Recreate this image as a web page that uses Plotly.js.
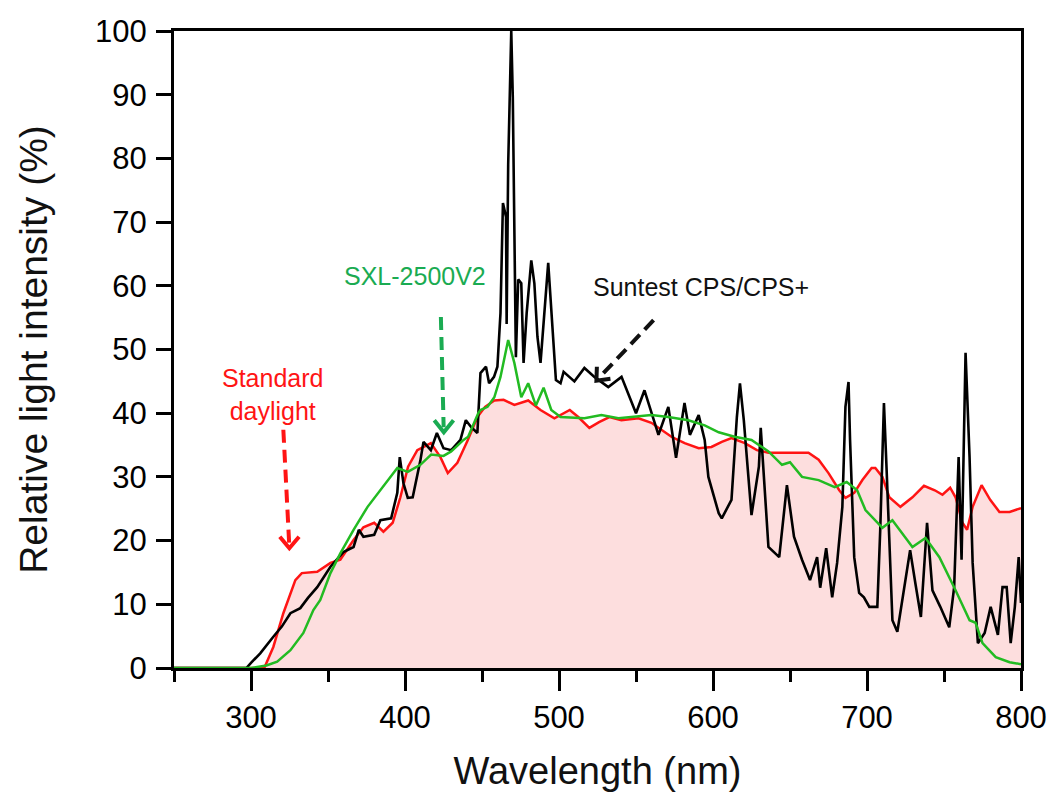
<!DOCTYPE html>
<html>
<head>
<meta charset="utf-8">
<script src="https://cdn.plot.ly/plotly-3.0.1.min.js"></script>
<style>html,body{margin:0;padding:0;background:#fff;}#chart{width:1049px;height:798px;}</style>
</head>
<body>
<div id="chart"></div>
<script>
// Suntest CPS/CPS+ (black)
const suntestX = [250,297,300,306,314.5,320,325.6,332,337,343,351.6,360,366.6,370,373,380,384,391,395,396.6,399,401.8,405,410,412,416.8,420.7,425,430,436,439.5,443,447,449,452.6,454.6,457.8,460,462,463.6,465.6,466,467,469,470,471,472,473.5,475.5,477,479,482,484,486,488,493,496,498,501,503,510,516.5,523,532,540.6,550,555.5,564.6,571,576,581.5,585,590.7,594.6,597,603.7,605.7,612,615.5,617.5,620,625,629.8,631,636,643,648,652.6,657.8,663,667.6,669.6,673.5,677.4,680.6,684,686,688,689,691.7,694.9,698,701.5,706.7,708.6,711,713,716.5,719.7,724,728,731.4,735,739,742.5,747.6,753.4,756.6,759.5,761.4,764,766.6,768.6,772,776.4,780.3,785,788,790.7,793.3,796,798.5,800];
const suntestY = [0,0,0.8,2.3,4.9,6.5,8.6,9.4,11,12.7,15.9,18.2,19.0,21.7,20.6,20.9,23.2,23.5,27.5,33.1,29,26.7,26.8,32.6,35.5,34.2,36.9,34.5,34.2,35.8,38.9,37.8,36.9,46.3,47.3,44.7,45.7,47.3,55.7,73,70.8,54,79,100,89.6,63.6,48.8,61,60.4,47.9,55.7,64,60.4,52,47.9,63.6,53,45.2,44.7,46.5,45,47.1,45.7,44.1,45.7,40,43.6,36.6,41,33,41.6,36.6,39.7,35.8,30,24.3,23.5,26.4,39.4,44.7,38.9,24,31.6,37.7,19,17.4,28.7,20.6,17,13.8,17.4,12.6,18.8,11.1,16.5,25.3,41,44.9,35.8,17.4,11.8,11.1,9.6,9.6,21.7,41.6,29.5,7.5,5.7,12.2,18.5,13.3,8,22.8,12.2,9.6,6.4,12.7,33.1,17,49.5,33.1,16.5,3.9,5.5,9.6,5.2,12.7,12.7,3.9,9.6,17.4,10.2];

// Standard daylight (red, filled)
const daylightX = [250,308.6,314.5,321,328.8,333,343,351.6,358,366.6,373,380,386,392,397,402,408,416.8,423,427.8,434,440.8,447,452,458,464,471,480,488,497,507,512.5,519.7,526,532.7,540.5,551.6,560,573,581.6,590.7,599,605.7,612,620.7,628.5,636,662,668.6,675,682,686,691.7,697,703,705.4,710,714.5,721.7,729.5,737,744,749,754,757.5,762,765,768.6,774.4,780,786,792.6,800];
const daylightY = [0,0,3.3,8.6,13.8,14.9,15.1,16.5,17,20.1,22.1,22.8,21.4,22.8,26.8,31.6,34.2,35.3,33.1,30.6,32.2,35.8,39.4,41,42,42.1,41.3,42,40.5,39.2,40.5,39.4,37.7,38.6,39.4,38.9,39.2,38.5,36.3,35.3,34.5,34.7,35.5,36.1,35.3,34.2,33.8,33.8,32.7,30.6,27.9,26.7,27.5,29.5,31.4,31.4,30,26.8,25.3,26.8,28.6,27.9,27.2,28.3,26.8,22.8,21.7,25.3,28.7,26.4,24.5,24.5,25.1];

// SXL-2500V2 (green)
const sxlX = [250,300,305,310,317,325.6,334,340.5,345,351.6,358,366.6,375.7,384,392.7,395,401.8,410,417,425,430,438,441,444,447.6,449,453.6,458,462,467,471,475.5,480,485,490,495,501,516.5,527.5,538.6,560,571,584,594.6,603.7,614,625,636,644.8,650,657.8,668.6,679,686.8,693.6,699,705.4,710,716.5,729.5,738,747,757.5,766.6,770.5,775,783.6,792.6,800];
const sxlY = [0,0,0.2,0.4,1,2.8,5.5,9.1,10.7,14.9,18,21.7,25.3,28,30.8,31.4,30.8,31.9,33.5,33.3,34,35.8,36.3,38,40,40.5,41,42.5,45.7,51.5,47.9,42.5,44.7,41.2,44,40.5,39.4,39.2,39.7,39.2,39.7,39.4,38.9,38.1,37,36.3,35.8,34,31.9,32.3,30,29.5,28.4,29.2,27.9,24.8,23.2,22,23.2,19,20.4,17.4,12.2,7.5,7.1,3.9,1.7,0.9,0.6];

const xTickVals = [300,400,500,600,700,800];
const yTickVals = [0,10,20,30,40,50,60,70,80,90,100];

const FONT = 'Liberation Sans, Arial, sans-serif';
const RED = '#ff1414', GREEN_LINE = '#22bb22', GREEN_TXT = '#1aab52';

const traces = [
  {x: daylightX, y: daylightY, type: 'scatter', mode: 'lines', fill: 'tozeroy',
   fillcolor: 'rgb(253,222,222)', line: {color: RED, width: 2.5}, hoverinfo: 'skip'},
  {x: suntestX, y: suntestY, type: 'scatter', mode: 'lines',
   line: {color: '#000000', width: 2.6}, hoverinfo: 'skip'},
  {x: sxlX, y: sxlY, type: 'scatter', mode: 'lines',
   line: {color: GREEN_LINE, width: 2.5}, hoverinfo: 'skip'}
];

function dashed(x0, y0, x1, y1, color) {
  return {type: 'line', xref: 'x', yref: 'y', x0: x0, y0: y0, x1: x1, y1: y1,
          line: {color: color, width: 4, dash: '13px,7px'}};
}
function chevron(ax, ay, tx, ty, bx, by, color) {
  return {type: 'path', xref: 'x', yref: 'y',
          path: `M ${ax},${ay} L ${tx},${ty} L ${bx},${by}`,
          line: {color: color, width: 4}};
}

const layout = {
  width: 1049, height: 798,
  margin: {l: 174, r: 28, t: 31, b: 130},
  paper_bgcolor: '#ffffff', plot_bgcolor: '#ffffff',
  showlegend: false,
  font: {family: FONT, color: '#000'},
  xaxis: {
    range: [250, 800], tickvals: xTickVals, ticktext: xTickVals.map(String),
    ticks: 'outside', ticklen: 20, tickwidth: 3, tickcolor: '#000',
    minor: {tick0: 250, dtick: 50, ticks: 'outside', ticklen: 11, tickwidth: 3, tickcolor: '#000', showgrid: false},
    showline: true, linewidth: 3, linecolor: '#000', mirror: true,
    showgrid: false, zeroline: false, ticklabelstandoff: 0,
    tickfont: {family: FONT, size: 31, color: '#000'},
    title: {text: 'Wavelength (nm)', font: {family: FONT, size: 38, color: '#111'}, standoff: 24},
    automargin: false
  },
  yaxis: {
    range: [0, 100], tickvals: yTickVals, ticktext: yTickVals.map(String),
    ticks: 'outside', ticklen: 15, tickwidth: 3, tickcolor: '#000',
    showline: true, linewidth: 3, linecolor: '#000', mirror: true,
    showgrid: false, zeroline: false, ticklabelstandoff: 3,
    tickfont: {family: FONT, size: 31, color: '#000'},
    title: {text: 'Relative light intensity (%)', font: {family: FONT, size: 39, color: '#111'}, standoff: 36},
    automargin: false
  },
  annotations: [
    {x: 313.8, y: 43, xref: 'x', yref: 'y', text: 'Standard<br>daylight', showarrow: false,
     font: {family: FONT, size: 25, color: RED}, align: 'center'},
    {x: 406.4, y: 61.5, xref: 'x', yref: 'y', text: 'SXL-2500V2', showarrow: false,
     font: {family: FONT, size: 25, color: GREEN_TXT}},
    {x: 592.5, y: 59.8, xref: 'x', yref: 'y', text: 'Suntest CPS/CPS+', showarrow: false,
     font: {family: FONT, size: 25, color: '#111'}}
  ],
  shapes: [
    dashed(321, 37.4, 324.8, 19.5, RED),
    chevron(318.7, 20.6, 324.9, 18.8, 331.2, 20.6, RED),
    dashed(423.3, 55.1, 425.1, 37.8, GREEN_TXT),
    chevron(419, 38.9, 425.2, 37.0, 431.5, 38.9, GREEN_TXT),
    dashed(561.4, 54.6, 525, 45.3, '#111'),
    chevron(533.4, 45.4, 524.3, 45.1, 524.6, 47.3, '#111')
  ]
};

Plotly.newPlot('chart', traces, layout, {staticPlot: true, displayModeBar: false});
</script>
</body>
</html>
